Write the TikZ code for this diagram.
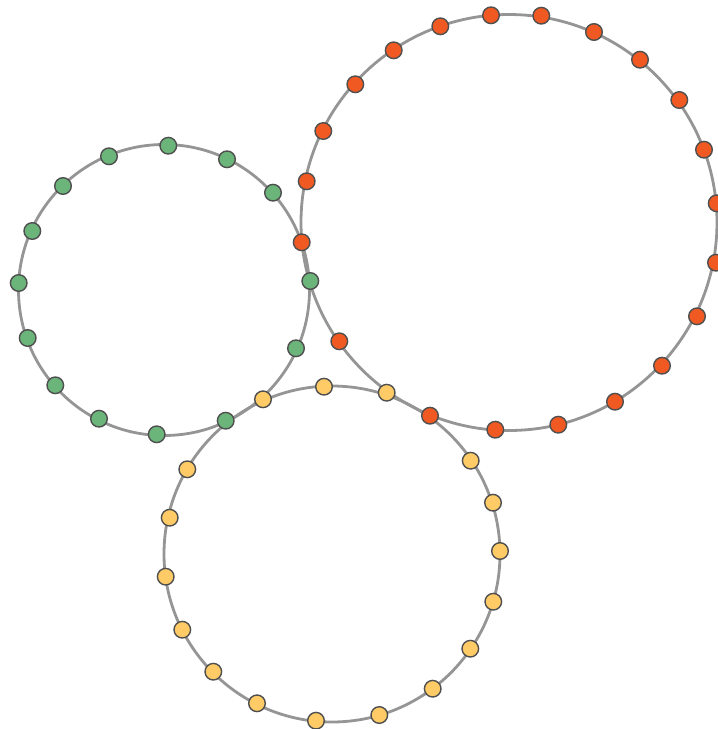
\documentclass[tikz,border=0pt]{standalone}
\definecolor{dotgreen}{HTML}{6BB57A}
\definecolor{dotorange}{HTML}{F05A22}
\definecolor{dotyellow}{HTML}{FECB66}
\definecolor{dotedge}{HTML}{4F4F4F}
\definecolor{ringgray}{HTML}{959595}
\begin{document}
\begin{tikzpicture}[x=1pt,y=-1pt,
  ring/.style={draw=ringgray,line width=2.8pt},
  dot/.style={circle,draw=dotedge,line width=1.4pt,minimum size=16.6pt,inner sep=0pt},
  gdot/.style={dot,fill=dotgreen},
  odot/.style={dot,fill=dotorange},
  ydot/.style={dot,fill=dotyellow}]
\useasboundingbox (0,0) rectangle (718,729);
\draw[ring] (164,290) circle[radius=145.5];
\draw[ring] (509,222.5) circle[radius=208];
\draw[ring] (332,554) circle[radius=168];
\foreach \n/\px/\py in {1/168.3/145.7,2/227/159.3,3/273/192.7,4/310.3/281,5/296/348.3,6/225.7/420.7,7/156.7/434.3,8/99/418.7,9/55.3/385.3,10/27.7/338,11/18.7/283,12/32.3/231,13/63/186,14/109/156.3}
  \node[gdot] (g\n) at (\px,\py) {};
\foreach \n/\px/\py in {1/491/15.3,2/541.3/15.7,3/594/32,4/640/59.7,5/679.3/100,6/704/149.7,7/716.7/203.3,8/716/262.7,9/697/316.3,10/662/365.7,11/615/401.7,12/558.3/424.7,13/495.3/429.7,14/430/415.7,15/339.3/341.3,16/301.7/242.3,17/306.7/181.3,18/323.3/131,19/355.3/84.3,20/393.7/50.3,21/440.3/26.3}
  \node[odot] (o\n) at (\px,\py) {};
\foreach \n/\px/\py in {1/263/399.3,2/324/386.7,3/386.7/392.7,4/470.7/460.7,5/493/502.7,6/500/551,7/493.3/601.7,8/470.3/648.7,9/432.7/688.7,10/379.3/715,11/316/720.7,12/257/703.3,13/213.3/671.7,14/182.3/629.7,15/165.7/576.7,16/169.7/517.7,17/187.3/469.3}
  \node[ydot] (y\n) at (\px,\py) {};
\end{tikzpicture}
\end{document}
